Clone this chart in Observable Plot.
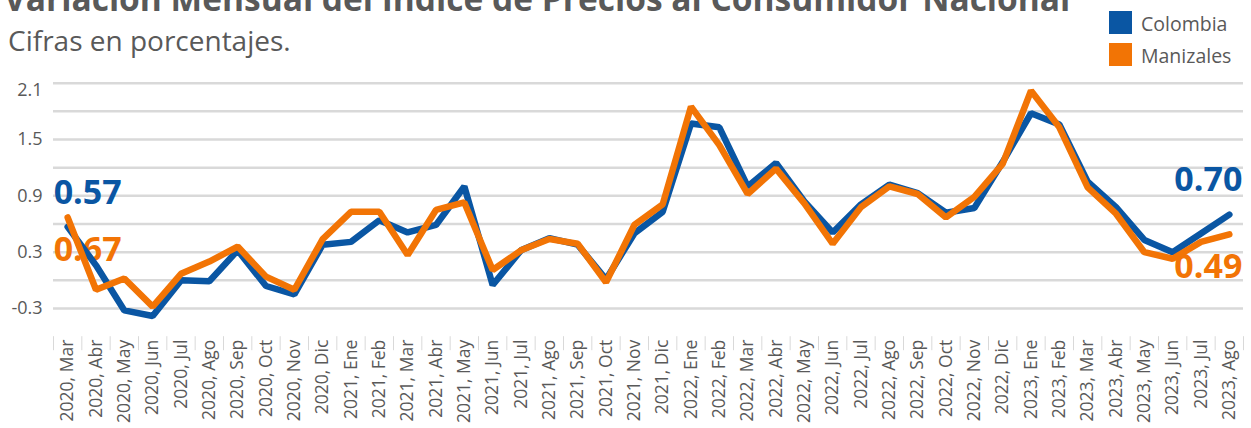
<!DOCTYPE html>
<html>
<head>
<meta charset="utf-8">
<script src="https://cdn.jsdelivr.net/npm/d3@7"></script>
<script src="https://cdn.jsdelivr.net/npm/@observablehq/plot@0.6"></script>
<style>
  html, body { margin: 0; padding: 0; background: #fff; }
  #wrap { position: relative; width: 1251px; height: 428px; overflow: hidden; font-family: "Open Sans", sans-serif; color: #595959; }
  #header { position: relative; height: 60px; }
  .title { position: absolute; left: 4px; top: -18px; font-size: 33.5px; font-weight: 700; line-height: 1; white-space: nowrap; color: #595959; }
  .subtitle { position: absolute; left: 8px; top: 26px; font-size: 28px; line-height: 1; white-space: nowrap; color: #595959; }
  .legend { position: absolute; left: 1109px; top: 11px; }
  .item { position: relative; height: 32px; }
  .sw { position: absolute; left: 0; top: 0; width: 23px; height: 23px; }
  .lab { position: absolute; left: 32px; top: 0px; font-size: 19.5px; line-height: 1.3; white-space: nowrap; color: #595959; }
  #chart svg { display: block; }
</style>
</head>
<body>
<div id="wrap">
  <div id="header">
    <div class="title">Variación Mensual del Índice de Precios al Consumidor Nacional</div>
    <div class="subtitle">Cifras en porcentajes.</div>
    <div class="legend" id="legend"></div>
  </div>
  <div id="chart"></div>
</div>
<script>
// ---- data ----
const months = [
  "2020, Mar","2020, Abr","2020, May","2020, Jun","2020, Jul","2020, Ago","2020, Sep","2020, Oct","2020, Nov","2020, Dic",
  "2021, Ene","2021, Feb","2021, Mar","2021, Abr","2021, May","2021, Jun","2021, Jul","2021, Ago","2021, Sep","2021, Oct","2021, Nov","2021, Dic",
  "2022, Ene","2022, Feb","2022, Mar","2022, Abr","2022, May","2022, Jun","2022, Jul","2022, Ago","2022, Sep","2022, Oct","2022, Nov","2022, Dic",
  "2023, Ene","2023, Feb","2023, Mar","2023, Abr","2023, May","2023, Jun","2023, Jul","2023, Ago"
];
const colombia = [
  0.57, 0.16, -0.32, -0.38, 0.00, -0.01, 0.32, -0.06, -0.15, 0.38,
  0.41, 0.64, 0.51, 0.59, 1.00, -0.05, 0.32, 0.45, 0.38, 0.01, 0.50, 0.73,
  1.67, 1.63, 1.00, 1.25, 0.84, 0.51, 0.81, 1.02, 0.93, 0.72, 0.77, 1.26,
  1.78, 1.66, 1.05, 0.78, 0.43, 0.30, 0.50, 0.70
];
const manizales = [
  0.67, -0.10, 0.02, -0.28, 0.07, 0.20, 0.36, 0.04, -0.10, 0.44,
  0.73, 0.73, 0.27, 0.75, 0.83, 0.11, 0.32, 0.44, 0.39, -0.02, 0.59, 0.81,
  1.85, 1.44, 0.92, 1.19, 0.82, 0.39, 0.78, 1.00, 0.92, 0.67, 0.89, 1.24,
  2.02, 1.63, 0.99, 0.71, 0.30, 0.23, 0.41, 0.49
];
const seriesNames = ["Colombia", "Manizales"];
const seriesColors = ["#0a56a3", "#f27405"];
const yTickLabels = [-0.3, 0.3, 0.9, 1.5];
const yTopLabel = [2.1];
const yGridValues = [-0.3, 0, 0.3, 0.6, 0.9, 1.2, 1.5, 1.8, 2.1];

// ---- table ----
const rowsCol = colombia.map((v, i) => ({i, month: months[i], series: "Colombia", value: v}));
const rowsMan = manizales.map((v, i) => ({i, month: months[i], series: "Manizales", value: v}));
const rows = rowsCol.concat(rowsMan);

// legend
const legend = document.getElementById("legend");
seriesNames.forEach((n, k) => {
  const it = document.createElement("div");
  it.className = "item";
  it.innerHTML = `<div class="sw" style="background:${seriesColors[k]}"></div><div class="lab">${n}</div>`;
  legend.appendChild(it);
});

const grey = "#595959";
const fmt = d => d.toFixed(2);
const labelFont = {fontFamily: "Open Sans", fontSize: 34, fontWeight: 700};
const yAxisStyle = {tickSize: 0, tickPadding: 11, fontSize: 18, fill: grey, tickFormat: d => d.toFixed(1), label: null};

const chart = Plot.plot({
  width: 1251,
  height: 368,
  marginLeft: 53,
  marginRight: 8,
  marginTop: 22.7,
  marginBottom: 91.8,
  style: {fontFamily: "Open Sans", background: "white", color: grey},
  x: {type: "linear", domain: [-0.5, months.length - 0.5]},
  y: {domain: [-0.6, 2.1]},
  color: {domain: seriesNames, range: seriesColors},
  marks: [
    Plot.gridY(yGridValues, {stroke: "#d9d9d9", strokeOpacity: 1, strokeWidth: 2.5}),
    Plot.axisY(yTickLabels, yAxisStyle),
    Plot.axisY(yTopLabel, {...yAxisStyle, dy: 7}),
    Plot.axisX(d3.range(months.length + 1).map(i => i - 0.5), {tickSize: 14, tickFormat: () => "", stroke: "#d9d9d9", label: null}),
    Plot.axisX(d3.range(months.length), {tickSize: 0, tickPadding: 3, tickRotate: -90, fontSize: 17.5, fill: grey, tickFormat: i => months[i], label: null}),
    // data labels
    Plot.text(rowsCol, Plot.selectFirst({x: "i", y: "value", text: d => fmt(d.value), fill: seriesColors[0], textAnchor: "start", dx: -14, dy: -34, ...labelFont})),
    Plot.text(rowsMan, Plot.selectFirst({x: "i", y: "value", text: d => fmt(d.value), fill: seriesColors[1], textAnchor: "start", dx: -14, dy: 33, ...labelFont})),
    Plot.text(rowsCol, Plot.selectLast({x: "i", y: "value", text: d => fmt(d.value), fill: seriesColors[0], textAnchor: "end", dx: 13, dy: -35, ...labelFont})),
    Plot.text(rowsMan, Plot.selectLast({x: "i", y: "value", text: d => fmt(d.value), fill: seriesColors[1], textAnchor: "end", dx: 13, dy: 33, ...labelFont})),
    // lines
    Plot.line(rows, {x: "i", y: "value", z: "series", stroke: "series", strokeWidth: 6.5, strokeLinejoin: "miter", strokeLinecap: "round"})
  ]
});
document.getElementById("chart").appendChild(chart);
</script>
</body>
</html>
